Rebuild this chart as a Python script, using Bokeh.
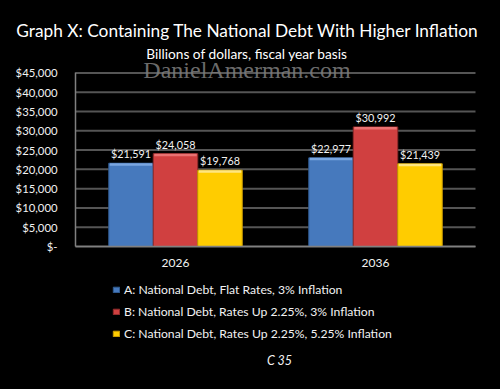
from bokeh.plotting import figure
from bokeh.models import (ColumnDataSource, FixedTicker, Range1d, Label, LinearAxis)
from bokeh.core.properties import value
from bokeh.embed import file_html
from bokeh.resources import INLINE

# ---- data ----
years = ["2026", "2036"]
series_names = [
    "A: National Debt, Flat Rates, 3% Inflation",
    "B: National Debt, Rates Up 2.25%, 3% Inflation",
    "C: National Debt, Rates Up 2.25%, 5.25% Inflation",
]
series_a = [21591, 22977]
series_b = [24058, 30992]
series_c = [19768, 21439]
y_ticks = [0, 5000, 10000, 15000, 20000, 25000, 30000, 35000, 40000, 45000]
y_tick_labels = ["$-", "$5,000", "$10,000", "$15,000", "$20,000", "$25,000",
                 "$30,000", "$35,000", "$40,000", "$45,000"]
title_text = "Graph X: Containing The National Debt With Higher Inflation"
subtitle_text = "Billions of dollars, fiscal year basis"
watermark_text = "DanielAmerman.com"
footer_text = "C 35"

# ---- style ----
colors = ["#4679bd", "#d04040", "#ffcc00"]
edge_colors = ["#2f5a8f", "#8f2a2a", "#c79a00"]
top_colors = ["#7aa6e0", "#ea7272", "#ffe680"]
FONT = "Lato"
W, H = 500, 389
# pixel layout of the plotting area inside the canvas
L, R, T, B = 75, 475, 72.4, 246

n = len(years)
year_pos = [i + 0.5 for i in range(n)]
ymax = y_ticks[-1]
px_per_unit_y = (B - T) / ymax
px_per_unit_x = (R - L) / n

x_range = Range1d(-L / px_per_unit_x, n + (W - R) / px_per_unit_x)
y_range = Range1d(-(H - B) / px_per_unit_y, B / px_per_unit_y)

p = figure(width=W, height=H, output_backend="svg", toolbar_location=None,
           x_range=x_range, y_range=y_range, title=None,
           x_axis_location=None, y_axis_location=None,
           min_border=0, min_border_left=0, min_border_right=0,
           min_border_top=0, min_border_bottom=0)
p.background_fill_color = "black"
p.border_fill_color = "black"
p.outline_line_color = None
p.xgrid.visible = False
p.ygrid.visible = False

# gridlines
p.segment(x0=[0] * len(y_ticks), x1=[n] * len(y_ticks), y0=y_ticks, y1=y_ticks,
          line_color="#555555", line_width=2)

# bars
bw = 0.2225
offsets = [-bw, 0.0, bw]
strip = 2.5 / px_per_unit_y
gap = 9.5 / px_per_unit_y
for vals, off, name, fc, ec, tc in zip([series_a, series_b, series_c], offsets,
                                       series_names, colors, edge_colors, top_colors):
    xs = [x + off for x in year_pos]
    s = ColumnDataSource(dict(x=xs, top=vals, hi=[v - strip for v in vals],
                              ly=[v + gap for v in vals],
                              lbl=[f"${v:,}" for v in vals]))
    p.vbar(x="x", top="top", bottom=0, width=bw, source=s, fill_color=fc,
           line_color=ec, line_width=1, legend_label=name)
    p.vbar(x="x", top="top", bottom="hi", width=bw - 0.01, source=s, fill_color=tc,
           line_color=None)
    p.text(x="x", y="ly", text="lbl", source=s, text_align="center",
           text_baseline="middle", text_color="#f2f2f2",
           text_font=value(FONT), text_font_size="10.8px")

# axes placed inside the canvas at fixed locations
yax = LinearAxis(fixed_location=0, bounds=(0, ymax), ticker=FixedTicker(ticks=y_ticks),
                 major_label_overrides=dict(zip(y_ticks, y_tick_labels)))
xax = LinearAxis(fixed_location=0, bounds=(0, n), ticker=FixedTicker(ticks=year_pos),
                 major_label_overrides=dict(zip(year_pos, years)))
for ax in (xax, yax):
    ax.axis_line_color = "#808080"
    ax.axis_line_width = 1.5
    ax.major_tick_line_color = None
    ax.minor_tick_line_color = None
    ax.major_label_text_color = "#f2f2f2"
    ax.major_label_text_font = FONT
yax.major_label_text_font_size = "11.3px"
yax.major_label_standoff = 12
xax.major_label_text_font_size = "12px"
xax.major_label_standoff = 6
p.add_layout(yax, "left")
p.add_layout(xax, "below")

# legend
lg = p.legend[0]
lg.location = (112, H - 341)
lg.background_fill_alpha = 0
lg.border_line_color = None
lg.label_text_color = "#f2f2f2"
lg.label_text_font = FONT
lg.label_text_font_size = "12.2px"
lg.glyph_width = 8
lg.glyph_height = 7
lg.label_height = 16
lg.label_standoff = 4
lg.spacing = 6
lg.padding = 0
lg.margin = 0

# texts (screen coords from canvas bottom-left), vertically centred
p.add_layout(Label(x=247, y=H - 30, x_units="screen", y_units="screen", text=title_text,
                   text_align="center", text_baseline="middle", text_color="white",
                   text_font=FONT, text_font_size="17.3px"))
p.add_layout(Label(x=246.5, y=H - 52.5, x_units="screen", y_units="screen", text=subtitle_text,
                   text_align="center", text_baseline="middle", text_color="white",
                   text_font=FONT, text_font_size="13.7px"))
p.add_layout(Label(x=246.5, y=H - 69, x_units="screen", y_units="screen", text=watermark_text,
                   text_align="center", text_baseline="middle", text_color="#7a7a7a",
                   text_alpha=0.9, text_font="Liberation Serif", text_font_size="24px"))
p.add_layout(Label(x=279, y=H - 359.5, x_units="screen", y_units="screen", text=footer_text,
                   text_align="center", text_baseline="middle", text_color="#f2f2f2",
                   text_font=FONT, text_font_style="italic", text_font_size="12.5px"))

html = file_html(p, INLINE)
html = html.replace("<head>", "<head><style>html,body{background:#000;}</style>", 1)
open("out.html", "w").write(html)
